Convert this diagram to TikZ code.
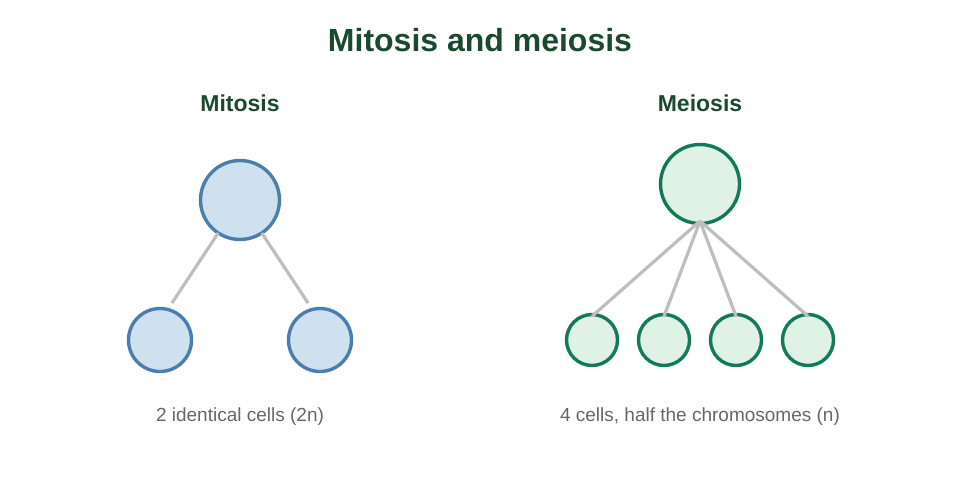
\documentclass[tikz,border=0pt]{standalone}
\usepackage{fontspec}
\setmainfont{Liberation Sans}
\definecolor{titlegreen}{HTML}{1A4A2E}
\definecolor{capgray}{HTML}{666666}
\definecolor{mitfill}{HTML}{CFE0EF}
\definecolor{mitdraw}{HTML}{4A7FAD}
\definecolor{meifill}{HTML}{DFF2E5}
\definecolor{meidraw}{HTML}{127A5A}
\definecolor{linkgray}{HTML}{BEBEBE}
\tikzset{
  titletext/.style={anchor=base, text=titlegreen, font=\fontsize{32}{36}\selectfont\bfseries, inner sep=0},
  subtext/.style={anchor=base, text=titlegreen, font=\fontsize{23}{27}\selectfont\bfseries, inner sep=0},
  captext/.style={anchor=base, text=capgray, font=\fontsize{19}{23}\selectfont, inner sep=0},
  mitcell/.style={circle, fill=mitfill, draw=mitdraw, line width=3.4pt, inner sep=0, outer sep=0},
  meicell/.style={circle, fill=meifill, draw=meidraw, line width=3.4pt, inner sep=0, outer sep=0},
  link/.style={draw=linkgray, line width=3.2pt}
}
\begin{document}
\begin{tikzpicture}[x=1pt,y=-1pt]
\useasboundingbox (0,0) rectangle (960,500);
\node[titletext] (title) at (480,51.7) {Mitosis and meiosis};
\node[subtext] (mitt) at (240,111.7) {Mitosis};
\node[subtext] (meit) at (700,111.7) {Meiosis};
% mitosis
\node[mitcell, minimum size=79pt] (mp) at (240,200) {};
\coordinate (m1e) at (172,303);
\coordinate (m2e) at (308,303);
\draw[link] (mp) -- (m1e);
\draw[link] (mp) -- (m2e);
\node[mitcell, minimum size=63pt] (mc1) at (160,340) {};
\node[mitcell, minimum size=63pt] (mc2) at (320,340) {};
% meiosis
\node[meicell, minimum size=79pt] (ep) at (700,184) {};
\coordinate (es) at (700,221);
\node[meicell, minimum size=51pt] (ec1) at (592,340) {};
\node[meicell, minimum size=51pt] (ec2) at (664,340) {};
\node[meicell, minimum size=51pt] (ec3) at (736,340) {};
\node[meicell, minimum size=51pt] (ec4) at (808,340) {};
\foreach \c in {ec1,ec2,ec3,ec4} \draw[link] (es) -- ([yshift=-1.7pt]\c.north);
\node[captext] (mcap) at (240,421) {2 identical cells (2n)};
\node[captext] (ecap) at (700,421) {4 cells, half the chromosomes (n)};
\end{tikzpicture}
\end{document}
